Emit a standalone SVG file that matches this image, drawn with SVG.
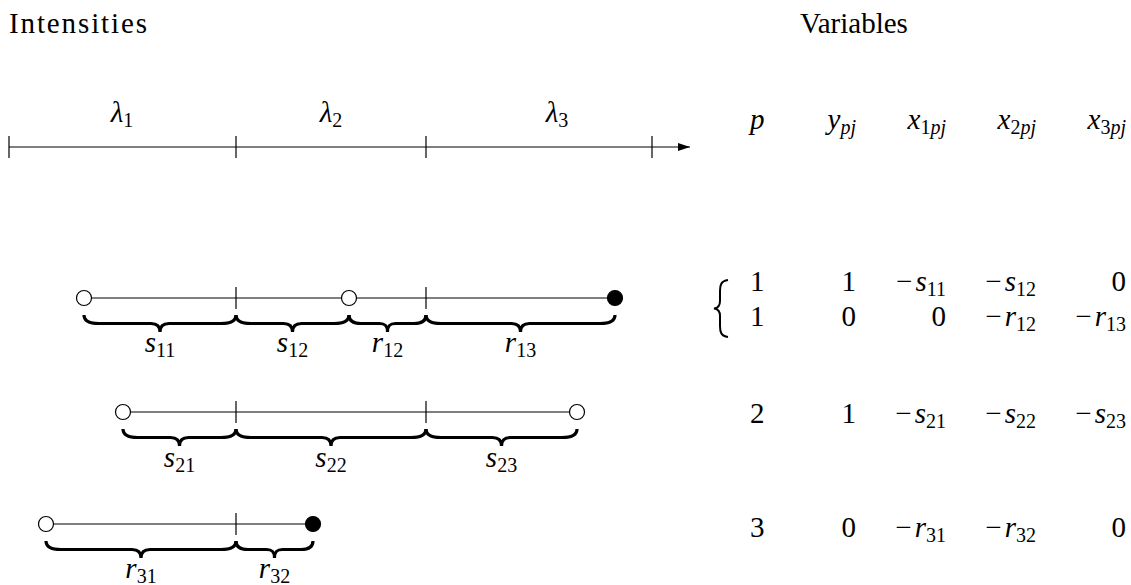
<svg xmlns="http://www.w3.org/2000/svg" width="1131" height="585" viewBox="0 0 1131 585" font-family="'Liberation Serif', 'DejaVu Serif', serif">
<style>
text{font-family:"Liberation Serif","DejaVu Serif",serif;font-size:29px;fill:#000}
.m{font-style:italic}
.sub{font-size:20px;font-style:normal}
.subi{font-size:20px;font-style:italic}
.ln{stroke:#000;stroke-width:1.2;fill:none}
.br{stroke:#000;stroke-width:3.2;fill:none;stroke-linecap:butt}
.oc{fill:#fff;stroke:#000;stroke-width:1.2}
.fc{fill:#000;stroke:#000;stroke-width:1.2}
</style>
<defs>
<marker id="arr" viewBox="0 0 12 8" refX="12" refY="4" markerWidth="12" markerHeight="8" markerUnits="userSpaceOnUse" orient="auto">
<path d="M0,0 L12,4 L0,8 Z" fill="#000"/>
</marker>
</defs>
<rect width="1131" height="585" fill="#fff"/>

<text id="title-left" x="9" y="33" textLength="138" lengthAdjust="spacing">Intensities</text>
<text id="title-right" x="800" y="33">Variables</text>

<g id="axis">
<line class="ln" x1="9" y1="147" x2="690" y2="147" marker-end="url(#arr)"/>
<line class="ln" x1="9" y1="136" x2="9" y2="158"/>
<line class="ln" x1="236" y1="136" x2="236" y2="158"/>
<line class="ln" x1="426" y1="136" x2="426" y2="158"/>
<line class="ln" x1="652" y1="136" x2="652" y2="158"/>
<text x="122" y="122" text-anchor="middle"><tspan class="m">λ</tspan><tspan class="sub" dy="5">1</tspan></text>
<text x="331" y="122" text-anchor="middle"><tspan class="m">λ</tspan><tspan class="sub" dy="5">2</tspan></text>
<text x="557" y="122" text-anchor="middle"><tspan class="m">λ</tspan><tspan class="sub" dy="5">3</tspan></text>
</g>

<g id="row1">
<line class="ln" x1="84" y1="298" x2="615" y2="298"/>
<line class="ln" x1="236" y1="287" x2="236" y2="309"/>
<line class="ln" x1="426" y1="287" x2="426" y2="309"/>
<circle class="oc" cx="84" cy="298" r="7.5"/>
<circle class="oc" cx="349" cy="298" r="7.5"/>
<circle class="fc" cx="615" cy="298" r="7.5"/>
<path class="br" d="M84,315 C84,321 90,323.5 99,323.5 L151,323.5 C157,323.5 160,326 160,332 C160,326 163,323.5 169,323.5 L221,323.5 C230,323.5 236,321 236,315"/>
<path class="br" d="M236,315 C236,321 242,323.5 251,323.5 L283.5,323.5 C289.5,323.5 292.5,326 292.5,332 C292.5,326 295.5,323.5 301.5,323.5 L334,323.5 C343,323.5 349,321 349,315"/>
<path class="br" d="M349,315 C349,321 354,323.5 361,323.5 L379.5,323.5 C385.5,323.5 387.5,326 387.5,332 C387.5,326 389.5,323.5 395.5,323.5 L414,323.5 C421,323.5 426,321 426,315"/>
<path class="br" d="M426,315 C426,321 432,323.5 441,323.5 L511.5,323.5 C517.5,323.5 520.5,326 520.5,332 C520.5,326 523.5,323.5 529.5,323.5 L600,323.5 C609,323.5 615,321 615,315"/>
<text x="160" y="352" text-anchor="middle"><tspan class="m">s</tspan><tspan class="sub" dy="5">11</tspan></text>
<text x="292.5" y="352" text-anchor="middle"><tspan class="m">s</tspan><tspan class="sub" dy="5">12</tspan></text>
<text x="387.5" y="352" text-anchor="middle"><tspan class="m">r</tspan><tspan class="sub" dy="5">12</tspan></text>
<text x="520.5" y="352" text-anchor="middle"><tspan class="m">r</tspan><tspan class="sub" dy="5">13</tspan></text>
</g>

<g id="row2">
<line class="ln" x1="123" y1="412" x2="577" y2="412"/>
<line class="ln" x1="236" y1="401" x2="236" y2="423"/>
<line class="ln" x1="426" y1="401" x2="426" y2="423"/>
<circle class="oc" cx="123" cy="412" r="7.5"/>
<circle class="oc" cx="577" cy="412" r="7.5"/>
<path class="br" d="M123,429 C123,435 129,437.5 138,437.5 L170.5,437.5 C176.5,437.5 179.5,440 179.5,446 C179.5,440 182.5,437.5 188.5,437.5 L221,437.5 C230,437.5 236,435 236,429"/>
<path class="br" d="M236,429 C236,435 242,437.5 251,437.5 L322,437.5 C328,437.5 331,440 331,446 C331,440 334,437.5 340,437.5 L411,437.5 C420,437.5 426,435 426,429"/>
<path class="br" d="M426,429 C426,435 432,437.5 441,437.5 L492.5,437.5 C498.5,437.5 501.5,440 501.5,446 C501.5,440 504.5,437.5 510.5,437.5 L562,437.5 C571,437.5 577,435 577,429"/>
<text x="179.5" y="467" text-anchor="middle"><tspan class="m">s</tspan><tspan class="sub" dy="5">21</tspan></text>
<text x="331" y="467" text-anchor="middle"><tspan class="m">s</tspan><tspan class="sub" dy="5">22</tspan></text>
<text x="501.5" y="467" text-anchor="middle"><tspan class="m">s</tspan><tspan class="sub" dy="5">23</tspan></text>
</g>

<g id="row3">
<line class="ln" x1="46" y1="524" x2="313" y2="524"/>
<line class="ln" x1="236" y1="513" x2="236" y2="535"/>
<circle class="oc" cx="46" cy="524" r="7.5"/>
<circle class="fc" cx="313" cy="524" r="7.5"/>
<path class="br" d="M46,541 C46,547 52,549.5 61,549.5 L132,549.5 C138,549.5 141,552 141,558 C141,552 144,549.5 150,549.5 L221,549.5 C230,549.5 236,547 236,541"/>
<path class="br" d="M236,541 C236,547 241,549.5 248,549.5 L266.5,549.5 C272.5,549.5 274.5,552 274.5,558 C274.5,552 276.5,549.5 282.5,549.5 L301,549.5 C308,549.5 313,547 313,541"/>
<text x="141" y="578" text-anchor="middle"><tspan class="m">r</tspan><tspan class="sub" dy="5">31</tspan></text>
<text x="274.5" y="578" text-anchor="middle"><tspan class="m">r</tspan><tspan class="sub" dy="5">32</tspan></text>
</g>

<g id="table">
<g id="header">
<text x="750" y="129" class="m">p</text>
<text x="856" y="129" text-anchor="end"><tspan class="m">y</tspan><tspan class="subi" dy="5">pj</tspan></text>
<text x="946" y="129" text-anchor="end"><tspan class="m">x</tspan><tspan class="sub" dy="5">1</tspan><tspan class="subi">pj</tspan></text>
<text x="1036" y="129" text-anchor="end"><tspan class="m">x</tspan><tspan class="sub" dy="5">2</tspan><tspan class="subi">pj</tspan></text>
<text x="1126" y="129" text-anchor="end"><tspan class="m">x</tspan><tspan class="sub" dy="5">3</tspan><tspan class="subi">pj</tspan></text>
</g>
<path id="tbrace" d="M728,280 C721,281 720,285 720,291 L720,301 C720,305 719,308 714,308.5 C719,309 720,312 720,316 L720,326 C720,332 721,336 728,337" stroke="#000" stroke-width="2" fill="none"/>
<g id="r1a">
<text x="750" y="291">1</text>
<text x="856" y="291" text-anchor="end">1</text>
<text x="946" y="291" text-anchor="end">−<tspan class="m" dx="3">s</tspan><tspan class="sub" dy="5">11</tspan></text>
<text x="1036" y="291" text-anchor="end">−<tspan class="m" dx="3">s</tspan><tspan class="sub" dy="5">12</tspan></text>
<text x="1126" y="291" text-anchor="end">0</text>
</g>
<g id="r1b">
<text x="750" y="326">1</text>
<text x="856" y="326" text-anchor="end">0</text>
<text x="946" y="326" text-anchor="end">0</text>
<text x="1036" y="326" text-anchor="end">−<tspan class="m" dx="3">r</tspan><tspan class="sub" dy="5">12</tspan></text>
<text x="1126" y="326" text-anchor="end">−<tspan class="m" dx="3">r</tspan><tspan class="sub" dy="5">13</tspan></text>
</g>
<g id="r2">
<text x="750" y="423">2</text>
<text x="856" y="423" text-anchor="end">1</text>
<text x="946" y="423" text-anchor="end">−<tspan class="m" dx="3">s</tspan><tspan class="sub" dy="5">21</tspan></text>
<text x="1036" y="423" text-anchor="end">−<tspan class="m" dx="3">s</tspan><tspan class="sub" dy="5">22</tspan></text>
<text x="1126" y="423" text-anchor="end">−<tspan class="m" dx="3">s</tspan><tspan class="sub" dy="5">23</tspan></text>
</g>
<g id="r3">
<text x="750" y="537">3</text>
<text x="856" y="537" text-anchor="end">0</text>
<text x="946" y="537" text-anchor="end">−<tspan class="m" dx="3">r</tspan><tspan class="sub" dy="5">31</tspan></text>
<text x="1036" y="537" text-anchor="end">−<tspan class="m" dx="3">r</tspan><tspan class="sub" dy="5">32</tspan></text>
<text x="1126" y="537" text-anchor="end">0</text>
</g>
</g>
</svg>
